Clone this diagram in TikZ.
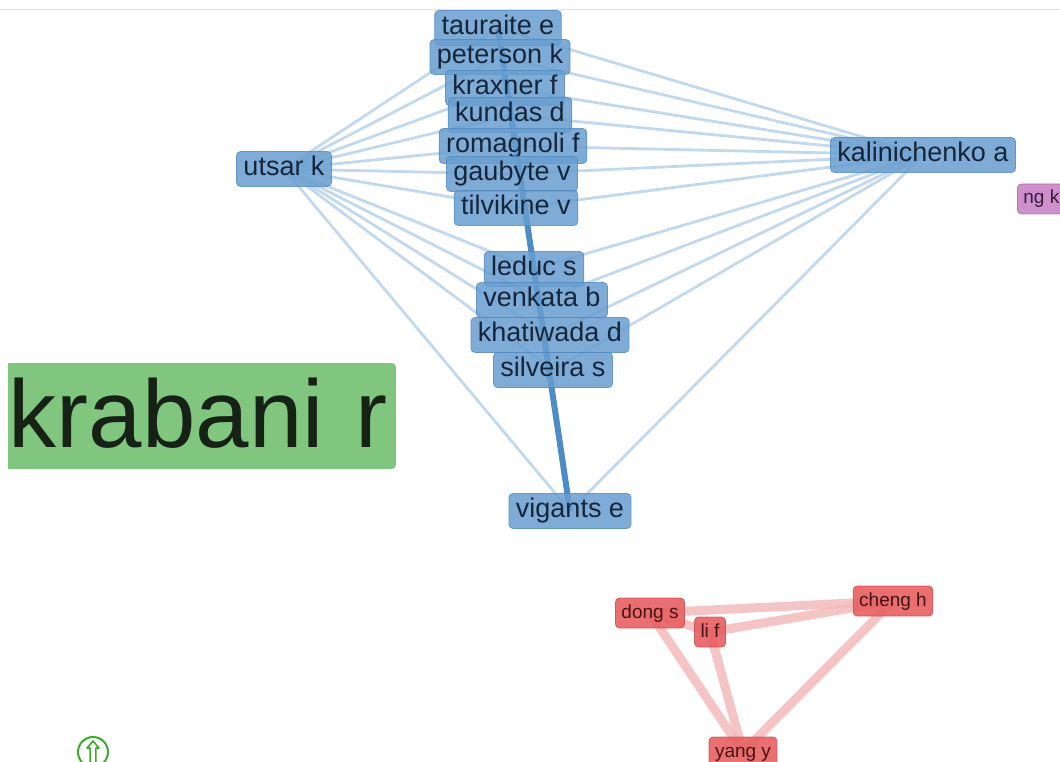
\documentclass[tikz,border=0pt]{standalone}
\usepackage{fontspec}
\setmainfont{Liberation Sans}
\definecolor{bfill}{RGB}{104,158,208}
\definecolor{bdraw}{RGB}{84,138,192}
\definecolor{btext}{RGB}{22,38,58}
\definecolor{bedge}{RGB}{184,211,235}
\definecolor{bstrong}{RGB}{58,128,192}
\definecolor{rfill}{RGB}{232,96,98}
\definecolor{rdraw}{RGB}{205,72,76}
\definecolor{rtext}{RGB}{70,18,20}
\definecolor{redge}{RGB}{244,186,188}
\definecolor{gfill}{RGB}{128,198,126}
\definecolor{gtext}{RGB}{22,34,22}
\definecolor{pfill}{RGB}{200,132,200}
\definecolor{ptext}{RGB}{60,25,60}
\definecolor{iconcol}{RGB}{62,170,40}
\tikzset{
  blabel/.style={rectangle, rounded corners=4pt, fill=bfill, fill opacity=0.85,
    text opacity=1, draw=bdraw, draw opacity=0.8, line width=0.8pt, text=btext,
    font=\fontsize{27}{27}\selectfont, text height=19pt, text depth=6pt,
    inner xsep=7pt, inner ysep=5pt},
  rlabel/.style={rectangle, rounded corners=4pt, fill=rfill, fill opacity=0.9,
    text opacity=1, draw=rdraw, draw opacity=0.8, line width=0.8pt, text=rtext,
    font=\fontsize{19}{19}\selectfont, text height=14pt, text depth=4pt,
    inner xsep=6pt, inner ysep=6pt},
  plabel/.style={rlabel, fill=pfill, draw=pfill!80!black, text=ptext},
  glabel/.style={rectangle, rounded corners=4pt, fill=gfill, text=gtext,
    font=\fontsize{96}{96}\selectfont, text height=66pt, text depth=4pt,
    inner xsep=8pt, inner ysep=18pt},
  weak/.style={draw=bedge, line width=2.8pt, draw opacity=0.85},
  strong/.style={draw=bstrong, line width=6pt, draw opacity=0.9},
  redlink/.style={draw=redge, line width=9pt, draw opacity=0.85},
}
\begin{document}
\begin{tikzpicture}[x=1pt, y=-1pt]
\useasboundingbox (0,0) rectangle (1060,762);
\clip (0,0) rectangle (1060,762);
\fill[white] (0,0) rectangle (1060,762);
\draw[black!12, line width=1pt] (0,10) -- (1060,10);

% blue cluster nodes
\coordinate (pUtsar) at (284,169);
\coordinate (pKalin) at (923,155);
\coordinate (pTaur) at (498,28);
\coordinate (pPet) at (500,57);
\coordinate (pKrax) at (505,88);
\coordinate (pKund) at (510,115);
\coordinate (pRoma) at (513,146);
\coordinate (pGaub) at (512,174);
\coordinate (pTilv) at (516,208);
\coordinate (pLeduc) at (534,269);
\coordinate (pVenk) at (542,300);
\coordinate (pKhat) at (550,335);
\coordinate (pSilv) at (553,370);
\coordinate (pVig) at (570,511);

% light links of utsar k and kalinichenko a
\foreach \t in {pTaur,pPet,pKrax,pKund,pRoma,pGaub,pTilv,pLeduc,pVenk,pKhat,pSilv,pVig} {
  \draw[weak] (pUtsar) -- (\t);
  \draw[weak] (pKalin) -- (\t);
}
% strong link down the middle
\draw[strong] (pTaur) -- (pVig);

% red cluster links
\coordinate (pDong) at (650,613);
\coordinate (pLi) at (710,632);
\coordinate (pCheng) at (893,601);
\coordinate (pYang) at (743,752);
\draw[redlink] (pDong) -- (pCheng);
\draw[redlink] (pDong) -- (pLi);
\draw[redlink] (pLi) -- (pCheng);
\draw[redlink] (pDong) -- (pYang);
\draw[redlink] (pLi) -- (pYang);
\draw[redlink] (pCheng) -- (pYang);

% blue labels
\node[blabel] (utsar) at (pUtsar) {utsar k};
\node[blabel] (kalin) at (pKalin) {kalinichenko a};
\node[blabel] (taur) at (pTaur) {tauraite e};
\node[blabel] (pet) at (pPet) {peterson k};
\node[blabel] (krax) at (pKrax) {kraxner f};
\node[blabel] (kund) at (pKund) {kundas d};
\node[blabel] (roma) at (pRoma) {romagnoli f};
\node[blabel] (gaub) at (pGaub) {gaubyte v};
\node[blabel] (tilv) at (pTilv) {tilvikine v};
\node[blabel] (leduc) at (pLeduc) {leduc s};
\node[blabel] (venk) at (pVenk) {venkata b};
\node[blabel] (khat) at (pKhat) {khatiwada d};
\node[blabel] (silv) at (pSilv) {silveira s};
\node[blabel] (vig) at (pVig) {vigants e};

% red labels
\node[rlabel] (dong) at (pDong) {dong s};
\node[rlabel] (lif) at (pLi) {li f};
\node[rlabel] (cheng) at (pCheng) {cheng h};
\node[rlabel] (yang) at (pYang) {yang y};

% purple label at the right edge
\node[plabel, anchor=west] (ngk) at (1017,199) {ng k};

% large green label, cut at the left
\begin{scope}
  \clip (8,0) rectangle (1060,762);
  \node[glabel, anchor=east, minimum width=420pt, text width=404pt, align=right]
    (krab) at (396,416) {krabani r};
\end{scope}

% round up-arrow button
\node[circle, draw=iconcol, line width=2pt, minimum size=30pt, inner sep=0pt] (btn) at (93,752) {};
\draw[iconcol, line width=1.6pt, line join=round]
  (btn.center) ++(0,-11) -- ++(6,7) -- ++(-3.2,0) -- ++(0,16)
  -- ++(-5.6,0) -- ++(0,-16) -- ++(-3.2,0) -- cycle;
\end{tikzpicture}
\end{document}
